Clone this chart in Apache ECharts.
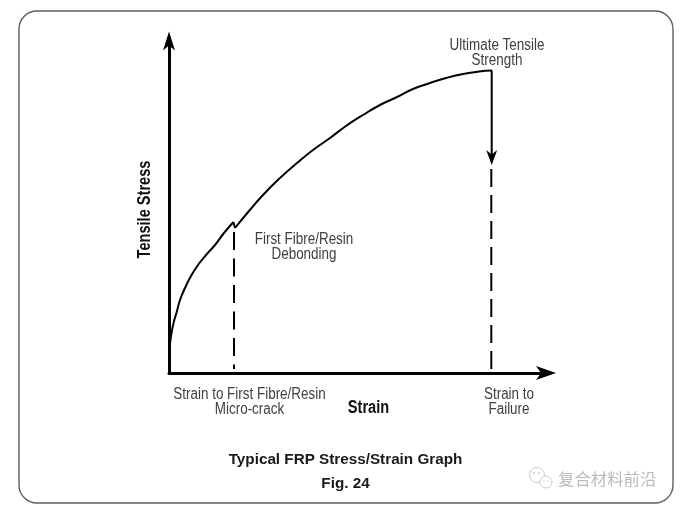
<!DOCTYPE html>
<html>
<head>
<meta charset="utf-8">
<style>
  html, body { margin: 0; padding: 0; background: #fff; }
  #chart { width: 695px; height: 512px; }
</style>
<script src="https://cdn.jsdelivr.net/npm/echarts@6/dist/echarts.min.js"></script>
</head>
<body>
<div id="chart"></div>
<script>
// values, in arbitrary strain / stress units
var preDebondStrain = [0, 0.7, 1.5, 2.7, 4.8, 7.7, 11, 16, 22, 29, 37, 46, 55, 64.5];
var preDebondStress = [0, 25, 33, 41, 51, 61, 73, 85, 97, 108, 118, 128, 140, 151];
var postDebondStrain = [66, 80, 94, 111, 128, 144, 161, 177, 194, 211, 228, 244, 261, 277, 294, 310, 323];
var postDebondStress = [145, 162, 178, 195, 210, 223, 235, 247, 258, 268, 276, 284, 290, 295, 299, 301.5, 302.5];
var debondDropStrain = [64.5, 66];
var debondDropStress = [151, 145];
var debondGuideStrain = [65, 65];
var debondGuideStress = [141, 4];
var failureDropStrain = [322.7, 322.7];
var failureDropStress = [302.5, 212];
var failureGuideStrain = [322.3, 322.3];
var failureGuideStress = [204, 3];

var arrowY = 'path://M60 0 L120 190 L60 140 L0 190 Z';
var arrowX = 'path://M70 0 L140 200 L70 150 L0 200 Z';
var arrowDown = 'path://M0 0 L50 30 L100 0 L50 100 Z';
var textFont = '"Liberation Sans", sans-serif';

function pairs(xs, ys) {
  return xs.map(function (x, i) { return [x, ys[i]]; });
}

function lineSeries(name, xs, ys, extra) {
  return Object.assign({
    name: name,
    type: 'line',
    data: pairs(xs, ys),
    symbol: 'none',
    silent: true,
    lineStyle: { color: '#000', width: 2 }
  }, extra || {});
}

// the original font is a condensed one, so squeeze the regular face
function note(text, x, y) {
  return {
    type: 'text',
    x: x,
    y: y,
    scaleX: 0.84,
    style: {
      text: text,
      fill: '#3f3f3f',
      font: '16px ' + textFont,
      align: 'center',
      lineHeight: 15
    }
  };
}

function axisName(text, x, y, rotation) {
  return {
    type: 'text',
    x: x,
    y: y,
    rotation: rotation,
    scaleX: 0.81,
    style: {
      text: text,
      fill: '#111',
      font: 'bold 18px ' + textFont,
      align: 'center',
      verticalAlign: 'middle'
    }
  };
}

function hiddenAxis(max, arrow, size) {
  return {
    type: 'value',
    min: 0,
    max: max,
    axisLine: {
      lineStyle: { color: '#000', width: 3 },
      symbol: ['none', arrow],
      symbolSize: size
    },
    axisTick: { show: false },
    axisLabel: { show: false },
    splitLine: { show: false }
  };
}

var chart = echarts.init(document.getElementById('chart'), null, { renderer: 'canvas' });

chart.setOption({
  animation: false,
  backgroundColor: '#fff',
  grid: { left: 169, top: 41, width: 377, height: 332 },
  title: {
    text: 'Typical FRP Stress/Strain Graph',
    subtext: 'Fig. 24',
    left: 340.5,
    top: 447.5,
    textAlign: 'center',
    itemGap: 8.5,
    textStyle: { fontFamily: '"Liberation Sans"', fontSize: 15.25, fontWeight: 'bold', color: '#1a1a1a' },
    subtextStyle: { fontFamily: '"Liberation Sans"', fontSize: 15.25, fontWeight: 'bold', color: '#1a1a1a' }
  },
  xAxis: hiddenAxis(377, arrowX, [14, 20]),
  yAxis: hiddenAxis(332, arrowY, [12, 19]),
  series: [
    lineSeries('Before debonding', preDebondStrain, preDebondStress, { smooth: 0.5 }),
    lineSeries('Debonding drop', debondDropStrain, debondDropStress),
    lineSeries('After debonding', postDebondStrain, postDebondStress, { smooth: 0.5 }),
    lineSeries('Debonding guide', debondGuideStrain, debondGuideStress, {
      lineStyle: { color: '#000', width: 2, type: [18, 8.5] }
    }),
    lineSeries('Failure drop', failureDropStrain, failureDropStress, {
      markPoint: {
        silent: true,
        symbol: arrowDown,
        symbolSize: [11, 15],
        label: { show: false },
        data: [{ coord: [failureDropStrain[1], failureDropStress[1] + 3.5] }],
        itemStyle: { color: '#000' }
      }
    }),
    lineSeries('Failure guide', failureGuideStrain, failureGuideStress, {
      lineStyle: { color: '#000', width: 2, type: [18, 8] }
    })
  ],
  graphic: [
    {
      type: 'rect',
      shape: { x: 19, y: 11, width: 654, height: 492, r: 18 },
      style: { fill: 'none', stroke: '#5f5f5f', lineWidth: 1.4 },
      silent: true,
      z: -1
    },
    axisName('Strain', 368.5, 408, 0),
    axisName('Tensile Stress', 145, 209.5, Math.PI / 2),
    note('Ultimate Tensile\nStrength', 497, 38.5),
    note('First Fibre/Resin\nDebonding', 304, 232),
    note('Strain to First Fibre/Resin\nMicro-crack', 249.5, 387),
    note('Strain to\nFailure', 509, 387),
    // watermark
    {
      type: 'text',
      x: 558,
      y: 471,
      style: {
        text: '复合材料前沿',
        fill: '#bbbbbb',
        font: '16.4px "Noto Sans CJK SC"'
      }
    },
    {
      type: 'circle',
      shape: { cx: 537, cy: 475, r: 7.5 },
      style: { fill: '#fff', stroke: '#cccccc', lineWidth: 1 }
    },
    {
      type: 'circle',
      shape: { cx: 546, cy: 482, r: 6 },
      style: { fill: '#fff', stroke: '#cccccc', lineWidth: 1 }
    },
    { type: 'circle', shape: { cx: 534, cy: 473, r: 1 }, style: { fill: '#c4c4c4' } },
    { type: 'circle', shape: { cx: 539, cy: 473, r: 1 }, style: { fill: '#c4c4c4' } },
    { type: 'circle', shape: { cx: 544, cy: 481, r: 0.8 }, style: { fill: '#c4c4c4' } },
    { type: 'circle', shape: { cx: 548, cy: 481, r: 0.8 }, style: { fill: '#c4c4c4' } }
  ]
});
</script>
</body>
</html>
